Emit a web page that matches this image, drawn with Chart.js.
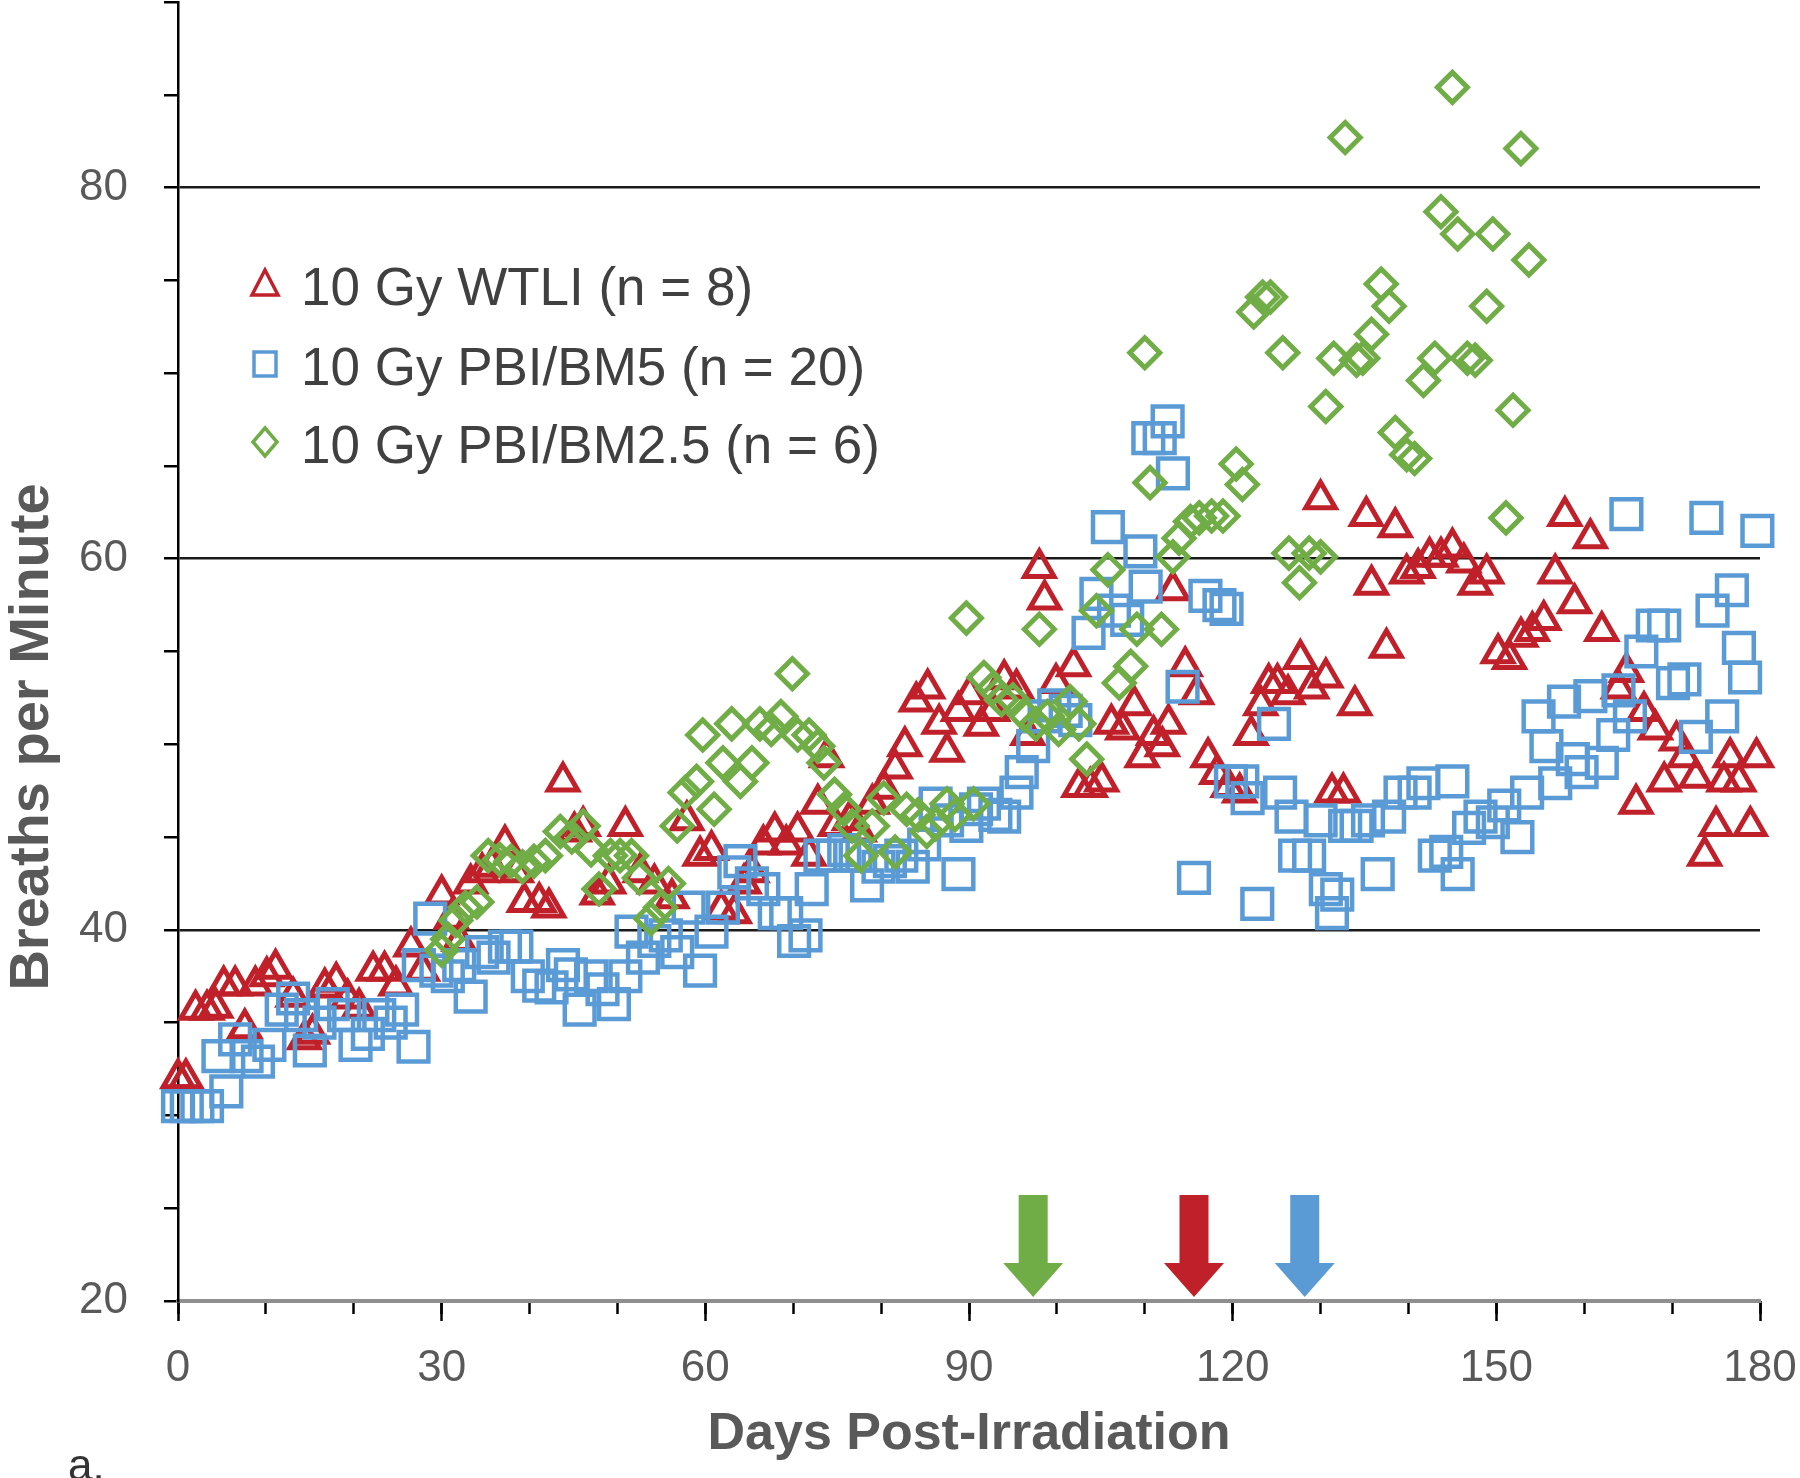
<!DOCTYPE html>
<html>
<head>
<meta charset="utf-8">
<script src="https://cdn.jsdelivr.net/npm/chart.js@4.4.0/dist/chart.umd.min.js"></script>
<style>
  body { margin: 0; background: #fff; }
  #wrap { width: 1800px; height: 1478px; }
</style>
</head>
<body>
<div id="wrap"><canvas id="breaths" width="1800" height="1478"></canvas></div>
<script>
// series labels
const seriesNames = ["10 Gy WTLI (n = 8)", "10 Gy PBI/BM5 (n = 20)", "10 Gy PBI/BM2.5 (n = 6)"]

// 10 Gy WTLI
const wtliDays = [0,0.9,2,3.3,4.3,5.2,6.5,7.6,8.8,10.1,11.1,13.1,14.4,15.3,16.7,18,19.3,20.6,22.2,23.5,24.8,26.5,27.8,30,31.1,32,33.3,34.6,35.7,37.2,38.5,39.4,41.1,42.2,43.8,45.1,46.1,47.7,49,50.9,52.6,54.2,56.2,57.9,59.4,60.7,61.8,63.3,64.4,65.3,66.6,67.9,69.2,70.5,71.8,72.8,73.8,74.8,76.4,77.5,79,80.3,81.6,82.7,84,85.3,86.6,87.5,88.8,90.1,91.4,92.7,94,95.4,96.7,98,98.6,99.9,101.9,102.5,103.8,105.1,106.2,107.5,108.8,109.7,111,112,112.7,113.2,114.6,115.9,117.2,118.2,119.5,120.8,122.1,123.2,124.1,125.1,126.3,127.7,129,130,130.6,131.3,132.6,133.9,135.2,135.8,137.5,138.5,139.8,141.1,142.4,143.7,145,146.3,147.6,148.9,150.2,151.5,152.8,154.1,155.4,156.7,157.8,158.9,160.7,162,163.9,164.8,165.9,166.8,168.1,169.1,170.5,171.4,172.7,173.7,175,175.9,176.6,177.6,178.9,179.6]
const wtliBpm = [32,32,35.7,35.7,35.8,37,37,34.7,37,37.5,37.9,36.4,34.1,34.4,36.9,37.2,36.3,35.8,37.8,37.8,37,39.1,37.8,41.9,40.6,39.4,42.5,43.1,43.4,44.6,43.1,41.5,41.5,41.2,48,45.3,45.6,41.9,42.5,45.6,43.1,42.5,41.7,45.9,44,44.3,41.1,40.9,42.5,43.1,44.6,45.3,44.6,45.3,44,46.8,49.3,45.6,45.9,45.3,46.8,47.6,48.7,49.9,52.3,53,51.1,49.6,51.8,52.7,51,51.8,53.5,53,50.5,59.5,57.8,53.3,54.2,47.7,47.7,48,51.1,50.8,52.1,49.3,50.5,49.9,51.1,58.3,54.2,52.7,49.3,48.4,47.7,47.4,50.5,52.1,53.3,53.3,52.7,54.6,53,63.2,53.6,47.4,47.4,52.1,62.3,58.6,55.2,61.7,59.2,59.5,60.1,60.1,60.6,59.8,58.6,59.2,54.9,54.6,55.8,56.1,56.7,59.2,62.3,57.6,61.1,56.1,53,53.9,46.8,51.8,50.8,48,50.2,49.3,48.2,44,45.6,48,49.3,48,45.6,49.3]

// 10 Gy PBI/BM5
const bm5Days = [0,1,2.2,3.3,4.6,5.5,6.5,7.8,9.1,10.4,11.8,13.1,14,15,16.1,17.6,18.9,20.2,21.6,22.9,24.2,25.5,26.8,27.4,28.7,29.4,30.7,32,33.3,34.6,35.9,37.2,38.5,39.8,41.1,42.5,43.8,44.7,45.7,47,48.3,49.6,50.9,51.6,52.9,54.2,55.5,56.8,58.1,59.4,60.7,62,63.3,64,65.3,66.6,67.9,69.2,70.1,71.4,72.1,73.1,74.5,75.8,77.1,78.4,79.7,81,82.3,83.6,84.9,86.2,87.5,88.8,89.7,90.8,91.7,93,94,95.4,96,97.3,98.6,99.7,101,102.1,103.6,104.5,105.8,106.5,108,109.5,110.1,110.4,111.7,112.6,113.2,114.3,115.6,116.9,118.5,119.3,119.8,121.1,121.7,122.8,124.7,125.4,126.7,127.1,128.7,130,130.6,131.3,131.9,132.8,134.1,135.4,136.5,137.8,139.1,140.7,141.7,143,144.3,145,145.6,146.9,148.2,149.6,150.9,152.4,153.5,154.8,155.7,156.7,157.7,158.7,159.7,160.7,162,163.3,163.9,164.8,165.2,166.5,167.8,169.1,170.1,171.4,172.7,173.9,174.6,175.7,176.8,177.6,178.3,179.7]
const bm5Bpm = [30.5,30.5,30.5,30.5,33.2,31.3,34.1,33.2,32.9,33.8,35.7,36.3,35.4,33.5,35,36,35.4,33.8,34.4,35.4,35,35.7,33.7,38.1,40.6,37.8,37.5,38.1,36.4,38.8,38.5,39.1,39.1,37.5,37,36.9,38.1,37.6,35.7,37.5,36.8,36,37.5,39.9,38.5,39.4,39.7,38.8,41.2,37.8,39.9,41.2,43.1,43.7,42.5,42.2,40.9,40.9,39.4,39.7,42.2,44,44,44.3,44,42.4,43.4,43.7,44,43.4,44.6,46.8,45.9,43,45.6,46.5,46.8,46.2,46.1,47.4,48.5,49.9,51.5,52.1,51.8,51.3,56,58.1,61.7,57.2,56.7,60.4,58.5,66.5,66.5,67.4,64.6,53.1,42.8,58,57.5,57.3,48,48,47.1,41.4,51.1,47.4,46.1,44,44,45.9,42.2,40.9,41.9,45.6,45.6,45.9,43,46.1,47.4,47.4,47.9,44,44.2,48,43,45.5,46.1,45.8,46.7,45,47.4,51.5,49.9,47.9,52.3,49.2,48.5,52.6,49,50.5,52.9,62.4,51.5,55,56.4,56.4,53.3,53.5,50.4,62.2,57.2,51.5,58.3,55.2,53.6,61.5]

// 10 Gy PBI/BM2.5
const bm25Days = [30,30.7,31.6,32.7,34,35.3,36.6,37.9,39.2,40.5,41.8,43.5,44.8,46.1,47,47.9,49.2,50.3,51.6,52.5,53.8,54.9,55.8,56.8,57.7,59,59.7,61,62,63,64,65.3,66.2,67.5,68.6,69.9,70.5,71.8,72.8,73.5,74.7,75.8,76.7,77.7,79,80.3,81.6,82.9,84.2,85.2,86.2,87.5,88.4,89.7,90.5,91.7,92.7,93.7,95,96.3,97.6,98,98.9,100.2,101.5,102.5,103.4,104.5,105.8,107.1,108.4,109.1,110,110.6,111.9,113.2,113.9,115.2,116.2,117.6,118.9,120.4,121.1,122.4,123.4,124.3,125.7,126.4,127.6,128.7,130,130.6,131.5,132.8,134.1,134.8,135.8,136.9,137.8,138.5,139.8,140.7,141.7,143,143.7,145,145.6,146.7,147.6,148.9,149.6,151.1,151.9,152.8,153.7]
const bm25Bpm = [38.9,39.5,40.5,41.2,41.5,44,43.8,43.7,43.4,43.7,44,45.3,45,45.6,44.3,42.2,44,44,44,42.8,40.6,41.2,42.5,45.6,47.4,48,50.5,46.5,49,51.1,48,49,51.1,50.8,51.5,53.8,50.5,50.5,49.9,49,47.3,46.5,45.6,44,45.6,47.1,44.2,46.5,46.2,45.3,45.7,46.8,46.2,56.8,46.8,53.6,53,52.4,52.4,51.6,51.1,56.2,51.5,50.8,52.3,51.1,49.2,57.2,59.4,53.3,54.2,56.2,71.1,64.1,56.2,60.1,61.1,62,62.2,62.3,62.3,65.1,64,73.3,74.1,74.1,71.1,60.3,58.7,60.3,60.1,68.2,70.8,82.7,70.7,70.8,72.1,74.8,73.6,66.8,65.6,65.4,69.6,70.8,78.7,85.4,77.5,70.8,70.7,73.6,77.5,62.2,68,82.1,76.1]

// onset arrows: day and which series (0 WTLI, 1 BM5, 2 BM2.5)
const arrowDays = [97.3, 115.6, 128.2]
const arrowSeries = [2, 0, 1]

const colors = ['#C0202A', '#5B9BD5', '#70AD47']
const fam = "'Liberation Sans', Arial, sans-serif"

function toPoints(days, vals){
    let pts = []
    for (let i = 0; i < days.length; i++){
        pts.push({x: days[i], y: vals[i]})
    }
    return pts
}

function drawMarker(ctx, shape, cx, cy){
    ctx.beginPath()
    if (shape == 'triangle'){
        ctx.moveTo(cx, cy - 14)
        ctx.lineTo(cx + 13, cy + 11)
        ctx.lineTo(cx - 13, cy + 11)
    } else if (shape == 'rect'){
        ctx.rect(cx - 11, cy - 12, 22, 24)
    } else {
        ctx.moveTo(cx, cy - 14)
        ctx.lineTo(cx + 12, cy)
        ctx.lineTo(cx, cy + 14)
        ctx.lineTo(cx - 12, cy)
    }
    ctx.closePath()
    ctx.stroke()
}

// legend, y title, arrows and panel letter
const extras = {
    id: 'extras',
    afterDraw(chart){
        const ctx = chart.ctx
        const xs = chart.scales.x
        const bottom = chart.chartArea.bottom

        ctx.save()
        // arrows
        for (let i = 0; i < arrowDays.length; i++){
            let px = xs.getPixelForValue(arrowDays[i])
            ctx.fillStyle = colors[arrowSeries[i]]
            ctx.fillRect(px - 14.5, bottom - 106, 29, 69)
            ctx.beginPath()
            ctx.moveTo(px - 30, bottom - 38)
            ctx.lineTo(px + 30, bottom - 38)
            ctx.lineTo(px, bottom - 4)
            ctx.closePath()
            ctx.fill()
        }

        // legend
        const shapes = ['triangle', 'rect', 'rectRot']
        const rows = [305, 385, 463]
        ctx.font = "53px " + fam
        ctx.textBaseline = 'alphabetic'
        ctx.textAlign = 'left'
        ctx.lineWidth = 3.5
        for (let i = 0; i < 3; i++){
            ctx.strokeStyle = colors[i]
            drawMarker(ctx, shapes[i], 265, rows[i] - 21)
            ctx.fillStyle = '#404040'
            ctx.fillText(seriesNames[i], 301, rows[i])
        }

        // y title
        ctx.save()
        ctx.translate(48, 737)
        ctx.rotate(-Math.PI / 2)
        ctx.font = "bold 56px " + fam
        ctx.fillStyle = '#595959'
        ctx.textAlign = 'center'
        ctx.fillText('Breaths per Minute', 0, 0)
        ctx.restore()

        // panel letter
        ctx.font = "44px " + fam
        ctx.fillStyle = '#333333'
        ctx.fillText('a.', 68, 1480)
        ctx.restore()
    }
}

const datasets = [
    {label: seriesNames[0], data: toPoints(wtliDays, wtliBpm), pointStyle: 'triangle', pointRadius: 17, pointHoverRadius: 17,
     pointBorderColor: colors[0], pointBackgroundColor: 'rgba(0,0,0,0)', pointBorderWidth: 5, order: 3},
    {label: seriesNames[1], data: toPoints(bm5Days, bm5Bpm), pointStyle: 'rect', pointRadius: 21, pointHoverRadius: 21,
     pointBorderColor: colors[1], pointBackgroundColor: 'rgba(0,0,0,0)', pointBorderWidth: 4.5, order: 2},
    {label: seriesNames[2], data: toPoints(bm25Days, bm25Bpm), pointStyle: 'rectRot', pointRadius: 15, pointHoverRadius: 15,
     pointBorderColor: colors[2], pointBackgroundColor: 'rgba(0,0,0,0)', pointBorderWidth: 5, order: 1}
]
datasets.forEach(d => { d.showLine = false; d.clip = false })

new Chart(document.getElementById('breaths'), {
    type: 'scatter',
    data: {datasets: datasets},
    options: {
        responsive: false,
        animation: false,
        events: [],
        layout: {autoPadding: false, padding: {top: 2, right: 40, left: 0, bottom: 0}},
        plugins: {legend: {display: false}, tooltip: {enabled: false}},
        scales: {
            x: {
                type: 'linear', position: 'bottom', min: 0, max: 180, weight: 1,
                afterFit: s => { s.height = 177; s.paddingLeft = 0; s.paddingRight = 0 },
                ticks: {stepSize: 30, autoSkip: false, maxRotation: 0, color: '#595959', padding: 21,
                        font: {family: fam, size: 44}},
                grid: {drawOnChartArea: false, tickLength: 20, tickColor: '#000', tickWidth: 2.5},
                border: {color: '#8f8f8f', width: 4},
                title: {display: true, text: 'Days Post-Irradiation', color: '#595959',
                        font: {family: fam, size: 52, weight: 'bold'}, padding: {top: 0, bottom: 12}}
            },
            xMinor: {
                type: 'linear', position: 'bottom', min: 0, max: 180, weight: 0,
                afterFit: s => { s.height = 0; s.paddingLeft = 0; s.paddingRight = 0 },
                ticks: {display: false, stepSize: 10},
                grid: {drawOnChartArea: false, tickLength: 13, tickColor: '#000', tickWidth: 2.5},
                border: {display: false}
            },
            y: {
                min: 20, max: 90,
                afterFit: s => { s.width = 178; s.paddingTop = 0; s.paddingBottom = 0 },
                ticks: {stepSize: 5, autoSkip: false, color: '#595959', padding: 36,
                        font: {family: fam, size: 44},
                        callback: v => (v % 20 === 0 ? v : '')},
                grid: {
                    color: c => (c.tick && [40, 60, 80].includes(c.tick.value)) ? '#1a1a1a' : 'rgba(0,0,0,0)',
                    lineWidth: 2.5, tickLength: 14, tickColor: '#000', tickWidth: 2.5
                },
                border: {color: '#000', width: 2.5}
            }
        }
    },
    plugins: [extras]
})
</script>
</body>
</html>
